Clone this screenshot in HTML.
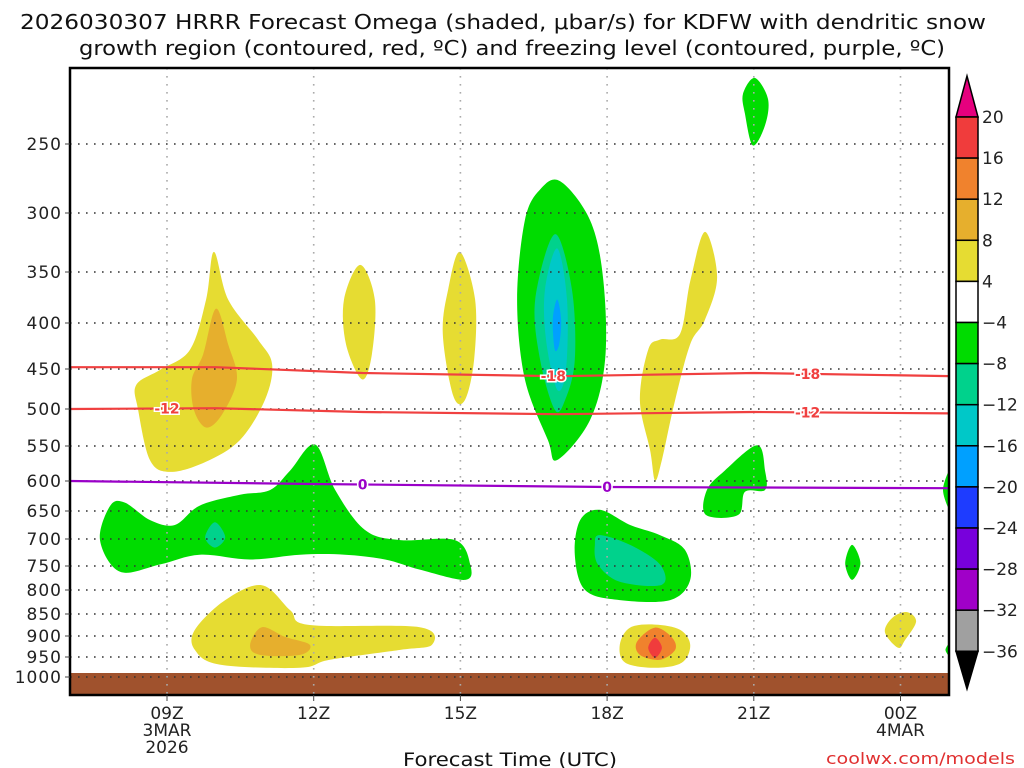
<!DOCTYPE html>
<html><head><meta charset="utf-8">
<style>
html,body{margin:0;padding:0;background:#fff;}
svg{display:block;font-family:"DejaVu Sans","Liberation Sans",sans-serif;}
</style></head>
<body>
<svg id="chart" width="1024" height="768" viewBox="0 0 1024 768" xmlns="http://www.w3.org/2000/svg">
<text x="503" y="29" font-size="20" text-anchor="middle" fill="#111" textLength="966" lengthAdjust="spacingAndGlyphs">2026030307 HRRR Forecast Omega (shaded, μbar/s) for KDFW with dendritic snow</text>
<text x="512" y="55" font-size="20" text-anchor="middle" fill="#111" textLength="866" lengthAdjust="spacingAndGlyphs">growth region (contoured, red, ºC) and freezing level (contoured, purple, ºC)</text>
<g id="plot"></g>
<g id="axes"></g>
<g id="cbar"></g>
<text x="510" y="766" font-size="19" text-anchor="middle" fill="#111" textLength="214" lengthAdjust="spacingAndGlyphs">Forecast Time (UTC)</text>
<text x="1015" y="764" font-size="16" text-anchor="end" fill="#e03030" textLength="189" lengthAdjust="spacingAndGlyphs">coolwx.com/models</text>
</svg>
<script>
// ---- data ----
const pressureTicks = [250,300,350,400,450,500,550,600,650,700,750,800,850,900,950,1000];
const timeTickHours = [9,12,15,18,21,24];
const timeTickLabels = ["09Z","12Z","15Z","18Z","21Z","00Z"];
const timeTickSub = [["3MAR","2026"],[],[],[],[],["4MAR"]];
const cbarLevels = [20,16,12,8,4,-4,-8,-12,-16,-20,-24,-28,-32,-36];
const cbarColors = ["#f03c3c","#f0822d","#e6af2d","#e6dc32","#ffffff","#00dc00","#00d28c","#00c8c8","#00a0ff","#1e3cff","#7800dc","#a000c8","#a0a0a0"];
// shaded regions: [level, points [hour, hPa]]
const regionYellowA = [[9.96,333],[10.25,377],[10.86,418],[11.15,445],[11.0,489],[10.49,542],[9.78,573],[9.06,587],[8.65,570],[8.41,501],[8.37,470],[8.86,451],[9.47,429],[9.8,377]];
const regionOrangeA = [[10.0,386],[10.25,423],[10.43,463],[10.12,508],[9.8,525],[9.55,501],[9.51,463],[9.74,434]];
const regionYellowB = [[12.95,344],[13.25,377],[13.19,434],[12.99,463],[12.66,423],[12.62,377]];
const regionYellowC = [[14.99,333],[15.3,377],[15.28,440],[15.09,489],[14.85,483],[14.64,412],[14.75,367]];
const regionGreenD = [[17.04,277],[17.65,306],[17.92,357],[17.96,440],[17.65,515],[16.98,570],[16.79,542],[16.32,463],[16.16,377],[16.32,306],[16.63,283]];
const regionTealD = [[16.93,318],[17.28,367],[17.34,440],[17.14,489],[16.93,501],[16.63,440],[16.53,377]];
const regionCyanD = [[16.98,330],[17.18,377],[17.16,451],[16.98,476],[16.75,418],[16.73,367]];
const regionBlueD = [[16.98,377],[17.06,397],[17.02,423],[16.93,429],[16.89,397]];
const regionYellowE = [[20.0,316],[20.25,355],[20.0,397],[19.7,423],[19.39,489],[19.12,570],[18.98,599],[18.88,556],[18.67,489],[18.84,429],[19.08,418],[19.49,412],[19.7,359]];
const regionGreenF = [[21.02,210],[21.29,222],[21.23,238],[20.98,251],[20.82,231],[20.78,219]];
const regionGreenG = [[21.07,549],[21.23,585],[21.23,615],[20.82,618],[20.68,657],[20.02,657],[20.04,615],[20.41,585]];
const regionGreenH = [[12.03,548],[12.44,615],[13.05,684],[13.77,702],[14.89,702],[15.2,747],[15.1,779],[14.18,758],[13.46,738],[12.64,729],[11.72,729],[10.7,738],[9.67,729],[8.86,747],[8.04,762],[7.63,702],[7.84,641],[8.14,636],[8.65,666],[9.16,675],[9.67,641],[10.49,623],[11.11,615],[11.52,585]];
const regionTealH = [[9.98,670],[10.19,697],[9.98,716],[9.78,697]];
const regionGreenI = [[17.85,648],[18.47,675],[19.08,693],[19.59,720],[19.7,779],[19.29,821],[18.26,821],[17.55,800],[17.34,729],[17.45,666]];
const regionTealI = [[17.85,693],[18.47,711],[19.08,747],[19.12,789],[18.26,783],[17.81,747],[17.75,711]];
const regionGreenJ = [[23.01,711],[23.18,745],[23.01,779],[22.87,745]];
const regionGreenK = [[25.1,577],[24.87,615],[25.1,657]];
const regionGreenL = [[25.1,910],[24.92,933],[25.1,957]];
const regionYellowM = [[10.94,790],[11.52,842],[11.92,875],[14.17,880],[14.42,921],[13.77,933],[12.33,957],[11.72,977],[10.08,969],[9.57,933],[9.57,886],[10.19,821]];
const regionOrangeM = [[10.94,880],[11.41,902],[11.92,921],[11.72,945],[10.9,945],[10.7,921]];
const regionYellowN = [[18.98,874],[19.49,886],[19.7,921],[19.53,964],[18.98,977],[18.37,964],[18.26,921],[18.47,881]];
const regionOrangeN = [[18.98,881],[19.33,904],[19.39,933],[19.08,957],[18.67,945],[18.61,914]];
const regionRedN = [[18.98,904],[19.12,928],[18.98,952],[18.84,928]];
const regionYellowO = [[24.13,846],[24.32,867],[24.09,910],[23.95,928],[23.68,891],[23.84,858]];
const regions = [
 ["yellow",regionYellowA],["gold",regionOrangeA],["yellow",regionYellowB],["yellow",regionYellowC],
 ["green",regionGreenD],["teal",regionTealD],["cyan",regionCyanD],["blue",regionBlueD],
 ["yellow",regionYellowE],["green",regionGreenF],["green",regionGreenG],["green",regionGreenH],["teal",regionTealH],
 ["green",regionGreenI],["teal",regionTealI],["green",regionGreenJ],["green",regionGreenK],["green",regionGreenL],
 ["yellow",regionYellowM],["gold",regionOrangeM],["yellow",regionYellowN],["orange",regionOrangeN],["red",regionRedN],["yellow",regionYellowO]];
// isotherms
const isoHours = [7,10,13,17,21,25.1];
const isoMinus18 = [448,448,455,459,455,459];
const isoMinus12 = [500,499,504,507,504,506];
const isoZeroHours = [7,12,18,25.1];
const isoZero = [600,605,610,612];
const labelsMinus18 = [[16.9,"-18"],[22.1,"-18"]];
const labelsMinus12 = [[9.0,"-12"],[22.1,"-12"]];
const labelsZero = [[13.0,"0"],[18.0,"0"]];

// ---- axes ----
const X0=70,X1=949,Y0=68,Y1=695;
const tickY=[144,213,272,323,369,409,446,481,511,539,566,590,614,636,657,677];
function xs(h){return 167+(h-9)*48.9;}
function ys(p){
  if(p<=250) return 144-379*Math.log(250/p);
  if(p>=1000) return 677+400*Math.log(p/1000);
  for(let i=0;i<pressureTicks.length-1;i++){
    if(p<=pressureTicks[i+1]){const t=(p-pressureTicks[i])/(pressureTicks[i+1]-pressureTicks[i]);return tickY[i]+t*(tickY[i+1]-tickY[i]);}
  }
}
const palette={yellow:"#e6dc32",gold:"#e6af2d",orange:"#f0822d",red:"#f03c3c",green:"#00dc00",teal:"#00d28c",cyan:"#00c8c8",blue:"#00a0ff"};
const NS="http://www.w3.org/2000/svg";
function mk(tag,attrs,parent){const e=document.createElementNS(NS,tag);for(const k in attrs)e.setAttribute(k,attrs[k]);parent.appendChild(e);return e;}
function smooth(pts){
  const n=pts.length;let d="M"+pts[0][0].toFixed(1)+","+pts[0][1].toFixed(1);
  for(let i=0;i<n;i++){
    const p0=pts[(i-1+n)%n],p1=pts[i],p2=pts[(i+1)%n],p3=pts[(i+2)%n];
    const c1=[p1[0]+(p2[0]-p0[0])/6,p1[1]+(p2[1]-p0[1])/6],c2=[p2[0]-(p3[0]-p1[0])/6,p2[1]-(p3[1]-p1[1])/6];
    d+=" C"+c1[0].toFixed(1)+","+c1[1].toFixed(1)+" "+c2[0].toFixed(1)+","+c2[1].toFixed(1)+" "+p2[0].toFixed(1)+","+p2[1].toFixed(1);
  }
  return d+"Z";
}
const plot=document.getElementById('plot');
mk('clipPath',{id:'clip'},plot);
mk('rect',{x:X0,y:Y0,width:X1-X0,height:Y1-Y0},document.getElementById('clip'));
const inner=mk('g',{'clip-path':'url(#clip)'},plot);
regions.forEach(r=>{
  const pts=r[1].map(q=>[xs(q[0]),ys(q[1])]);
  const el=mk('path',{d:smooth(pts),fill:palette[r[0]]},inner);
  
  
});
const gr=mk('rect',{x:X0,y:ys(1000)-4,width:X1-X0,height:Y1-ys(1000)+4,fill:"#a0522d"},inner);


pressureTicks.forEach(p=>{
  const l=mk('line',{x1:X0,x2:X1,y1:ys(p),y2:ys(p),stroke:"#333","stroke-width":1.6,"stroke-dasharray":"1.6 6.4"},inner);
  
  
});
timeTickHours.forEach(h=>{
  const l=mk('line',{x1:xs(h),x2:xs(h),y1:Y0,y2:Y1,stroke:"#aaa","stroke-width":1.6,"stroke-dasharray":"1.6 6.4"},inner);
  
  
});
function isoLine(hours,vals,color,name,labels){
  const pts=hours.map((h,i)=>[xs(h),ys(vals[i])]);
  let d="M"+pts.map(p=>p[0].toFixed(1)+","+p[1].toFixed(1)).join(" L");
  const l=mk('path',{d:d,fill:"none",stroke:color,"stroke-width":2.2},inner);
  
  
  labels.forEach(lb=>{
    let p=vals[0];
    for(let i=0;i<hours.length-1;i++){if(lb[0]>=hours[i]&&lb[0]<=hours[i+1]){const t=(lb[0]-hours[i])/(hours[i+1]-hours[i]);p=vals[i]+t*(vals[i+1]-vals[i]);}}
    const x=xs(lb[0]),y=ys(p);
    const t=mk('text',{x:x,y:y+5,"font-size":14,"font-weight":"bold","text-anchor":"middle",fill:color,stroke:"#fff","stroke-width":3,"paint-order":"stroke"},inner);
    t.textContent=lb[1];
    
    
  });
}
isoLine(isoHours,isoMinus18,"#f04040","isotherm-minus18",labelsMinus18);
isoLine(isoHours,isoMinus12,"#f04040","isotherm-minus12",labelsMinus12);
isoLine(isoZeroHours,isoZero,"#9a00c8","freezing-level",labelsZero);
const axes=document.getElementById('axes');
const fr=mk('rect',{x:X0,y:Y0,width:X1-X0,height:Y1-Y0,fill:"none",stroke:"#000","stroke-width":2.5},axes);


pressureTicks.forEach(p=>{
  mk('line',{x1:X0-5,x2:X0,y1:ys(p),y2:ys(p),stroke:"#444","stroke-width":1},axes);
  const t=mk('text',{x:X0-8,y:ys(p)+6,"font-size":17,"text-anchor":"end",fill:"#222","letter-spacing":"1"},axes);
  t.textContent=p;
  
  
});
timeTickHours.forEach((h,i)=>{
  mk('line',{x1:xs(h),x2:xs(h),y1:Y1,y2:Y1+6,stroke:"#444","stroke-width":1},axes);
  const lines=[timeTickLabels[i]].concat(timeTickSub[i]);
  lines.forEach((s,j)=>{
    const t=mk('text',{x:xs(h),y:Y1+24+j*17,"font-size":17,"text-anchor":"middle",fill:"#222"},axes);
    t.textContent=s;
    
    
  });
});
const cb=document.getElementById('cbar');
const CX0=956,CX1=978,CT=117,CH=41.1;
mk('polygon',{points:`${CX0},${CT} ${CX1},${CT} ${(CX0+CX1)/2},76`,fill:"#e6007e",stroke:"#000","stroke-width":1.5},cb);
cbarColors.forEach((c,i)=>{
  const r=mk('rect',{x:CX0,y:CT+i*CH,width:CX1-CX0,height:CH,fill:c,stroke:"#000","stroke-width":1.5},cb);
  
  
});
const CB=CT+cbarColors.length*CH;
mk('polygon',{points:`${CX0},${CB} ${CX1},${CB} ${(CX0+CX1)/2},689`,fill:"#000",stroke:"#000","stroke-width":1.5},cb);
cbarLevels.forEach((v,i)=>{
  const t=mk('text',{x:982,y:CT+i*CH+6,"font-size":17,fill:"#222"},cb);
  t.textContent=v<0?"\u2212"+Math.abs(v):String(v);
  
  
});
</script>
</body></html>
